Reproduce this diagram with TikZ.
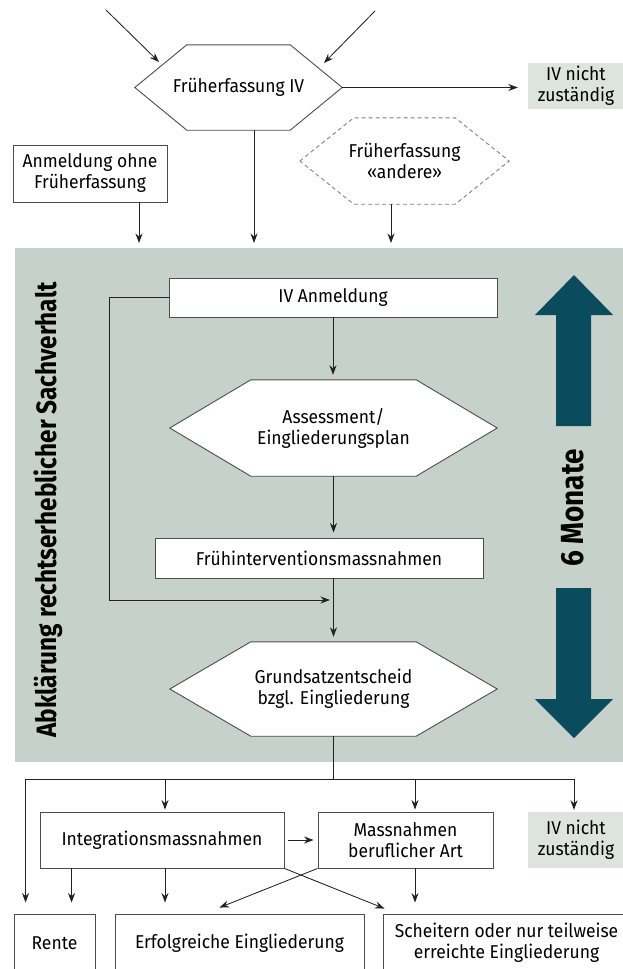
\documentclass[tikz,border=0pt]{standalone}
\usepackage{fontspec}
\setmainfont[FakeStretch=0.94]{Fira Sans}
\newfontfamily\condfont[FakeStretch=0.87]{Fira Sans}
\usetikzlibrary{arrows.meta,calc}
\definecolor{bgcol}{HTML}{C5D1CA}
\definecolor{ivcol}{HTML}{DDE3DF}
\definecolor{bluearr}{HTML}{0B4B5E}
\definecolor{linecol}{HTML}{222222}
\definecolor{boxcol}{HTML}{4D4D4D}
\pgfdeclarelayer{back}
\pgfdeclarelayer{mid}
\pgfsetlayers{back,mid,main}
\newcommand{\myhex}[3]{%
  \draw[#3] (#1.west) -- ([xshift=#2pt]#1.north west) -- ([xshift=-#2pt]#1.north east)
   -- (#1.east) -- ([xshift=-#2pt]#1.south east) -- ([xshift=#2pt]#1.south west) -- cycle;}
\begin{document}
\begin{tikzpicture}[x=1pt,y=-1pt,
  font=\fontsize{18.6}{21}\selectfont,
  box/.style={draw=boxcol, fill=white, line width=0.9pt, inner sep=0pt, align=center},
  hexn/.style={inner sep=0pt, align=center},
  ivbox/.style={fill=ivcol, inner sep=0pt, align=center},
  hexline/.style={draw=boxcol, fill=white, line width=0.9pt},
  hexdash/.style={draw=gray, line width=0.9pt, dash pattern=on 4pt off 3pt},
  arr/.style={-{Stealth[length=9.5pt,width=7pt]}, line width=0.85pt, draw=linecol},
  ln/.style={line width=0.85pt, draw=linecol},
  biglabel/.style={font=\condfont\bfseries\fontsize{28}{32}\selectfont, rotate=90},
  monlabel/.style={font=\condfont\bfseries\fontsize{32}{36}\selectfont\addfontfeatures{Numbers=OldStyle}, rotate=90}
]
\useasboundingbox (0,0) rectangle (623,969);
\clip (0,0) rectangle (623,969);

% grey region
\begin{pgfonlayer}{back}
\node[fill=bgcol, minimum width=615pt, minimum height=514pt, inner sep=0pt, anchor=north west] (bg) at (15,248) {};
\end{pgfonlayer}

% top part
\node[hexn, minimum width=207pt, minimum height=85pt] (fiv) at (238.5,87.5) {Früherfassung IV};
\node[ivbox, minimum width=96pt, minimum height=46pt] (ivn1) at (576,86) {IV nicht\\zuständig};
\node[box, minimum width=154pt, minimum height=57pt] (anm) at (90,173.5) {Anmeldung ohne\\Früherfassung};
\node[hexn, minimum width=209pt, minimum height=86pt] (fand) at (404.5,161) {Früherfassung\\«andere»};

% inside grey region
\node[box, minimum width=328pt, minimum height=39pt] (ivanm) at (333,297.5) {IV Anmeldung};
\node[hexn, minimum width=327pt, minimum height=96pt] (ass) at (333.5,428) {Assessment/\\Eingliederungsplan};
\node[box, minimum width=328pt, minimum height=40pt] (fri) at (319,558) {Frühinterventionsmassnahmen};
\node[hexn, minimum width=327pt, minimum height=94pt] (grund) at (333.5,689) {Grundsatzentscheid\\bzgl. Eingliederung};

% bottom part
\node[box, minimum width=244pt, minimum height=56pt] (integ) at (162,840) {Integrationsmassnahmen};
\node[box, minimum width=175pt, minimum height=56pt] (mass) at (405.5,840) {Massnahmen\\beruflicher Art};
\node[ivbox, minimum width=96pt, minimum height=56pt] (ivn2) at (576,840) {IV nicht\\zuständig};
\node[box, minimum width=81pt, minimum height=58pt] (rente) at (54.5,943) {Rente};
\node[box, minimum width=249pt, minimum height=58pt] (erf) at (239.5,943) {Erfolgreiche Eingliederung};
\node[box, minimum width=247pt, minimum height=58pt] (sch) at (506.5,943) {Scheitern oder nur teilweise\\erreichte Eingliederung};

% hexagon outlines
\begin{pgfonlayer}{mid}
\myhex{fiv}{52}{hexline}
\myhex{fand}{54}{hexdash}
\myhex{ass}{81}{hexline}
\myhex{grund}{81}{hexline}
\end{pgfonlayer}

% side labels and blue arrows
\node[biglabel] (lbl) at (48,510) {Abklärung rechtserheblicher Sachverhalt};
\node[monlabel] (mon) at (573,508) {6 Monate};
\fill[bluearr] (556,426) -- (556,315) -- (535,315) -- (574,275) -- (613,315) -- (591,315) -- (591,426) -- cycle;
\fill[bluearr] (556,588) -- (556,699) -- (535,699) -- (574,738) -- (613,699) -- (591,699) -- (591,588) -- cycle;

% connectors top
\coordinate (inL) at (106,10);
\coordinate (inLe) at (159,62);
\coordinate (inR) at (375,11);
\coordinate (inRe) at (324,63);
\draw[arr] (inL) -- (inLe);
\draw[arr] (inR) -- (inRe);
\draw[arr, shorten >=10pt] (fiv.east) -- (fiv.east -| ivn1.west);
\draw[arr, shorten >=5pt] ([xshift=49pt]anm.south) -- ([xshift=49pt]anm.south |- bg.north);
\draw[arr, shorten >=5pt] ([xshift=15.5pt]fiv.south) -- ([xshift=15.5pt]fiv.south |- bg.north);
\draw[arr, shorten >=5pt] ([xshift=-13.5pt]fand.south) -- ([xshift=-13.5pt]fand.south |- bg.north);

% connectors middle
\draw[arr, shorten >=5pt] (ivanm.south) -- (ivanm.south |- ass.north);
\draw[arr, shorten >=5pt] (ass.south) -- (ass.south |- fri.north);
\draw[arr, shorten >=5pt] (fri.south -| grund.north) -- (grund.north);
\coordinate (fb) at (330,600);
\draw[arr] (ivanm.west) -- ++(-59,0) |- (fb);

% connectors bottom
\coordinate (split) at (333.5,779);
\draw[ln] (grund.south) -- (split);
\draw[arr, shorten >=11pt] (split) -| ([xshift=12pt]rente.north west);
\draw[arr, shorten >=2pt] (split) -| ([xshift=3pt]integ.north);
\draw[arr, shorten >=2pt] (split) -| ([xshift=9.5pt]mass.north);
\draw[arr, shorten >=2pt] (split) -| ([xshift=-2pt]ivn2.north);
\draw[arr, shorten <=4pt, shorten >=4pt] (integ.east) -- (mass.west);
\draw[arr, shorten >=11pt] ([xshift=32pt]integ.south west) -- ([xshift=32pt]integ.south west |- rente.north);
\draw[arr, shorten >=11pt] ([xshift=3pt]integ.south) -- ([xshift=3pt]integ.south |- erf.north);
\draw[arr] (integ.south east) -- ($(sch.north west)+(2,-5)$);
\draw[arr] (mass.south west) -- ($(erf.north east)+(-145,-6)$);
\draw[arr, shorten >=11pt] ([xshift=9.5pt]mass.south) -- ([xshift=9.5pt]mass.south |- sch.north);
\end{tikzpicture}
\end{document}
